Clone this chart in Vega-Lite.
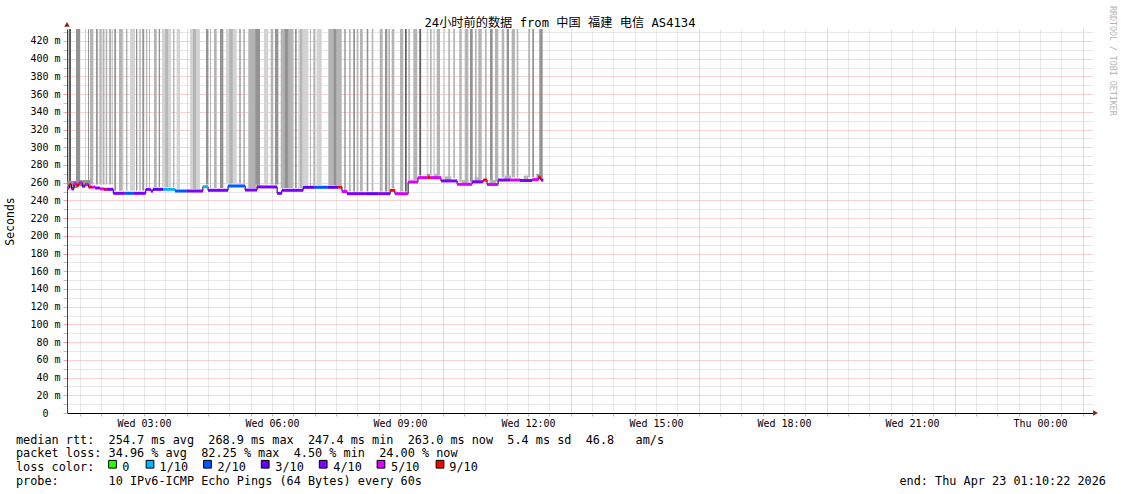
{
"$schema": "https://vega.github.io/schema/vega-lite/v6.json",
"background": "white",
"padding": {"left": 4, "top": 5, "right": 5, "bottom": 5},
"config": {"view": {"stroke": null}, "font": "DejaVu Sans Mono"},
"bounds": "flush",
"spacing": 30.7,
"datasets": {
"smoke": [
{"t":1.235,"t2":1.289,"level":4,"lo":258,"hi":440},
{"t":1.406,"t2":1.5,"level":3,"lo":258,"hi":440},
{"t":1.617,"t2":1.641,"level":1,"lo":258,"hi":440},
{"t":1.688,"t2":1.711,"level":3,"lo":258,"hi":440},
{"t":1.734,"t2":1.812,"level":2,"lo":258,"hi":440},
{"t":1.875,"t2":1.915,"level":3,"lo":258,"hi":440},
{"t":1.938,"t2":2.032,"level":1,"lo":258,"hi":440},
{"t":1.97,"t2":2.0,"level":2,"lo":258,"hi":440},
{"t":2.046,"t2":2.07,"level":3,"lo":258,"hi":440},
{"t":2.102,"t2":2.14,"level":2,"lo":258,"hi":440},
{"t":2.187,"t2":2.22,"level":3,"lo":258,"hi":440},
{"t":2.243,"t2":2.266,"level":2,"lo":258,"hi":440},
{"t":2.304,"t2":2.344,"level":3,"lo":251,"hi":440},
{"t":2.414,"t2":2.501,"level":2,"lo":251,"hi":440},
{"t":2.585,"t2":2.609,"level":3,"lo":251,"hi":440},
{"t":2.672,"t2":2.789,"level":1,"lo":251,"hi":440},
{"t":2.812,"t2":2.843,"level":3,"lo":251,"hi":440},
{"t":2.89,"t2":2.923,"level":2,"lo":251,"hi":440},
{"t":2.96,"t2":3.0,"level":3,"lo":251,"hi":440},
{"t":3.047,"t2":3.077,"level":2,"lo":255,"hi":440},
{"t":3.124,"t2":3.14,"level":3,"lo":255,"hi":440},
{"t":3.234,"t2":3.298,"level":2,"lo":255,"hi":440},
{"t":3.345,"t2":3.375,"level":3,"lo":255,"hi":440},
{"t":3.422,"t2":3.633,"level":1,"lo":255,"hi":440},
{"t":3.5,"t2":3.56,"level":2,"lo":255,"hi":440},
{"t":3.687,"t2":3.71,"level":3,"lo":255,"hi":440},
{"t":3.766,"t2":3.844,"level":1,"lo":253,"hi":440},
{"t":4.078,"t2":4.312,"level":1,"lo":253,"hi":440},
{"t":4.15,"t2":4.22,"level":2,"lo":253,"hi":440},
{"t":4.453,"t2":4.507,"level":3,"lo":258,"hi":440},
{"t":4.547,"t2":4.57,"level":2,"lo":254,"hi":440},
{"t":4.64,"t2":4.704,"level":2,"lo":254,"hi":440},
{"t":4.781,"t2":4.859,"level":3,"lo":254,"hi":440},
{"t":4.922,"t2":5.173,"level":1,"lo":259,"hi":440},
{"t":5.0,"t2":5.08,"level":2,"lo":259,"hi":440},
{"t":5.234,"t2":5.266,"level":3,"lo":259,"hi":440},
{"t":5.327,"t2":5.367,"level":2,"lo":259,"hi":440},
{"t":5.444,"t2":5.719,"level":2,"lo":254,"hi":440},
{"t":5.61,"t2":5.719,"level":3,"lo":258,"hi":440},
{"t":5.812,"t2":5.913,"level":1,"lo":258,"hi":440},
{"t":5.969,"t2":6.03,"level":2,"lo":258,"hi":440},
{"t":6.07,"t2":6.148,"level":3,"lo":258,"hi":440},
{"t":6.204,"t2":6.499,"level":2,"lo":254,"hi":440},
{"t":6.3,"t2":6.38,"level":3,"lo":254,"hi":440},
{"t":6.539,"t2":6.579,"level":3,"lo":254,"hi":440},
{"t":6.616,"t2":6.68,"level":1,"lo":254,"hi":440},
{"t":6.656,"t2":6.72,"level":2,"lo":254,"hi":440},
{"t":6.72,"t2":6.851,"level":1,"lo":257,"hi":440},
{"t":6.891,"t2":6.914,"level":2,"lo":257,"hi":440},
{"t":6.968,"t2":7.008,"level":2,"lo":257,"hi":440},
{"t":7.047,"t2":7.165,"level":1,"lo":257,"hi":440},
{"t":7.319,"t2":7.437,"level":2,"lo":257,"hi":440},
{"t":7.437,"t2":7.516,"level":3,"lo":257,"hi":440},
{"t":7.516,"t2":7.633,"level":2,"lo":257,"hi":440},
{"t":7.694,"t2":7.727,"level":3,"lo":250,"hi":440},
{"t":7.805,"t2":7.844,"level":2,"lo":250,"hi":440},
{"t":7.905,"t2":7.945,"level":3,"lo":250,"hi":440},
{"t":7.985,"t2":8.023,"level":2,"lo":250,"hi":440},
{"t":8.063,"t2":8.126,"level":2,"lo":250,"hi":440},
{"t":8.219,"t2":8.257,"level":3,"lo":250,"hi":440},
{"t":8.337,"t2":8.374,"level":2,"lo":250,"hi":440},
{"t":8.531,"t2":8.594,"level":2,"lo":250,"hi":440},
{"t":8.648,"t2":8.702,"level":3,"lo":250,"hi":440},
{"t":8.726,"t2":8.766,"level":2,"lo":250,"hi":440},
{"t":8.805,"t2":8.866,"level":2,"lo":254,"hi":440},
{"t":9.0,"t2":9.077,"level":2,"lo":250,"hi":440},
{"t":9.117,"t2":9.157,"level":4,"lo":250,"hi":440},
{"t":9.194,"t2":9.234,"level":2,"lo":263,"hi":440},
{"t":9.312,"t2":9.405,"level":2,"lo":263,"hi":440},
{"t":9.452,"t2":9.492,"level":4,"lo":268,"hi":440},
{"t":9.626,"t2":9.663,"level":1,"lo":268,"hi":440},
{"t":9.703,"t2":9.742,"level":2,"lo":268,"hi":440},
{"t":9.78,"t2":9.82,"level":1,"lo":268,"hi":440},
{"t":9.86,"t2":9.937,"level":2,"lo":268,"hi":440},
{"t":10.015,"t2":10.055,"level":1,"lo":265,"hi":440},
{"t":10.132,"t2":10.172,"level":2,"lo":265,"hi":440},
{"t":10.249,"t2":10.289,"level":2,"lo":265,"hi":440},
{"t":10.39,"t2":10.446,"level":2,"lo":261,"hi":440},
{"t":10.523,"t2":10.601,"level":2,"lo":261,"hi":440},
{"t":10.64,"t2":10.704,"level":3,"lo":261,"hi":440},
{"t":10.758,"t2":10.797,"level":2,"lo":264,"hi":440},
{"t":10.835,"t2":10.915,"level":2,"lo":264,"hi":440},
{"t":10.992,"t2":11.031,"level":2,"lo":264,"hi":440},
{"t":11.109,"t2":11.172,"level":3,"lo":261,"hi":440},
{"t":11.226,"t2":11.304,"level":2,"lo":261,"hi":440},
{"t":11.383,"t2":11.444,"level":2,"lo":266,"hi":440},
{"t":11.5,"t2":11.554,"level":3,"lo":266,"hi":440},
{"t":11.617,"t2":11.695,"level":2,"lo":266,"hi":440},
{"t":11.735,"t2":11.773,"level":2,"lo":266,"hi":440},
{"t":12.007,"t2":12.047,"level":2,"lo":266,"hi":440},
{"t":12.1,"t2":12.14,"level":3,"lo":266,"hi":440},
{"t":12.265,"t2":12.344,"level":3,"lo":266,"hi":440},
{"t":1.2,"t2":1.45,"level":3,"lo":254,"hi":262},
{"t":1.5,"t2":1.75,"level":3,"lo":256,"hi":263},
{"t":9.63,"t2":9.7,"level":3,"lo":266,"hi":270},
{"t":9.8,"t2":9.9,"level":2,"lo":266,"hi":270},
{"t":10.05,"t2":10.2,"level":2,"lo":263,"hi":267},
{"t":10.45,"t2":10.6,"level":2,"lo":259,"hi":263},
{"t":10.75,"t2":10.9,"level":2,"lo":262,"hi":266},
{"t":11.1,"t2":11.25,"level":2,"lo":259,"hi":263},
{"t":11.45,"t2":11.6,"level":2,"lo":264,"hi":268},
{"t":11.9,"t2":12.0,"level":2,"lo":264,"hi":268},
{"t":12.2,"t2":12.34,"level":3,"lo":264,"hi":270}
],
"median": [
{"t":1.195,"t2":1.25,"rtt":254,"loss":"5/10"},
{"t":1.25,"t2":1.3,"rtt":258,"loss":"9/10"},
{"t":1.3,"t2":1.36,"rtt":253,"loss":"4/10"},
{"t":1.36,"t2":1.42,"rtt":259,"loss":"5/10"},
{"t":1.42,"t2":1.48,"rtt":257,"loss":"9/10"},
{"t":1.48,"t2":1.55,"rtt":260,"loss":"5/10"},
{"t":1.55,"t2":1.62,"rtt":256,"loss":"4/10"},
{"t":1.62,"t2":1.7,"rtt":258,"loss":"5/10"},
{"t":1.7,"t2":1.78,"rtt":255,"loss":"9/10"},
{"t":1.78,"t2":1.86,"rtt":255,"loss":"5/10"},
{"t":1.86,"t2":1.97,"rtt":254,"loss":"4/10"},
{"t":1.97,"t2":2.06,"rtt":253,"loss":"5/10"},
{"t":2.06,"t2":2.12,"rtt":252.5,"loss":"9/10"},
{"t":2.12,"t2":2.28,"rtt":252.5,"loss":"4/10"},
{"t":2.28,"t2":2.55,"rtt":248,"loss":"4/10"},
{"t":2.55,"t2":2.75,"rtt":248,"loss":"2/10"},
{"t":2.75,"t2":3.04,"rtt":248,"loss":"4/10"},
{"t":3.04,"t2":3.16,"rtt":252.5,"loss":"4/10"},
{"t":3.16,"t2":3.21,"rtt":250.5,"loss":"4/10"},
{"t":3.21,"t2":3.45,"rtt":252.5,"loss":"3/10"},
{"t":3.45,"t2":3.73,"rtt":252.5,"loss":"1/10"},
{"t":3.73,"t2":4.0,"rtt":250.6,"loss":"2/10"},
{"t":4.0,"t2":4.38,"rtt":250.6,"loss":"4/10"},
{"t":4.38,"t2":4.5,"rtt":255.5,"loss":"1/10"},
{"t":4.5,"t2":4.97,"rtt":251.4,"loss":"4/10"},
{"t":4.97,"t2":5.37,"rtt":256.3,"loss":"2/10"},
{"t":5.37,"t2":5.65,"rtt":251.7,"loss":"4/10"},
{"t":5.65,"t2":6.12,"rtt":255.2,"loss":"4/10"},
{"t":6.12,"t2":6.23,"rtt":248,"loss":"4/10"},
{"t":6.23,"t2":6.73,"rtt":251.4,"loss":"4/10"},
{"t":6.73,"t2":7.0,"rtt":254.8,"loss":"3/10"},
{"t":7.0,"t2":7.3,"rtt":254.8,"loss":"2/10"},
{"t":7.3,"t2":7.55,"rtt":254.8,"loss":"3/10"},
{"t":7.55,"t2":7.64,"rtt":255,"loss":"9/10"},
{"t":7.64,"t2":7.76,"rtt":250,"loss":"5/10"},
{"t":7.76,"t2":8.2,"rtt":247.6,"loss":"4/10"},
{"t":8.2,"t2":8.5,"rtt":247.6,"loss":"3/10"},
{"t":8.5,"t2":8.77,"rtt":247.6,"loss":"4/10"},
{"t":8.77,"t2":8.88,"rtt":251.4,"loss":"9/10"},
{"t":8.88,"t2":9.19,"rtt":247.6,"loss":"5/10"},
{"t":9.19,"t2":9.42,"rtt":260.8,"loss":"5/10"},
{"t":9.42,"t2":9.65,"rtt":265.7,"loss":"5/10"},
{"t":9.65,"t2":9.72,"rtt":265.7,"loss":"9/10"},
{"t":9.72,"t2":9.96,"rtt":265.7,"loss":"5/10"},
{"t":9.96,"t2":10.34,"rtt":262,"loss":"4/10"},
{"t":10.34,"t2":10.69,"rtt":258.2,"loss":"5/10"},
{"t":10.69,"t2":10.95,"rtt":261,"loss":"4/10"},
{"t":10.95,"t2":11.04,"rtt":263,"loss":"9/10"},
{"t":11.04,"t2":11.3,"rtt":258,"loss":"5/10"},
{"t":11.3,"t2":11.58,"rtt":263,"loss":"4/10"},
{"t":11.58,"t2":11.81,"rtt":263,"loss":"5/10"},
{"t":11.81,"t2":12.1,"rtt":262.5,"loss":"4/10"},
{"t":12.1,"t2":12.25,"rtt":263.5,"loss":"5/10"},
{"t":12.25,"t2":12.3,"rtt":266,"loss":"9/10"},
{"t":12.3,"t2":12.36,"rtt":263,"loss":"4/10"}
],
"arrows": [
{"t":1.1953,"v":438.6,"dir":"up"},
{"t":25.3,"v":0,"dir":"right"}
],
"legendText": [
{"row":0,"col":0,"text":"median\u00a0rtt:\u00a0\u00a0254.7\u00a0ms\u00a0avg\u00a0\u00a0268.9\u00a0ms\u00a0max\u00a0\u00a0247.4\u00a0ms\u00a0min\u00a0\u00a0263.0\u00a0ms\u00a0now\u00a0\u00a05.4\u00a0ms\u00a0sd\u00a0\u00a046.8\u00a0\u00a0\u00a0am/s"},
{"row":1,"col":0,"text":"packet\u00a0loss:\u00a034.96\u00a0%\u00a0avg\u00a0\u00a082.25\u00a0%\u00a0max\u00a0\u00a04.50\u00a0%\u00a0min\u00a0\u00a024.00\u00a0%\u00a0now"},
{"row":2,"col":0,"text":"loss\u00a0color:"},
{"row":2,"col":15.14,"text":"0"},
{"row":2,"col":20.45,"text":"1/10"},
{"row":2,"col":28.7,"text":"2/10"},
{"row":2,"col":36.94,"text":"3/10"},
{"row":2,"col":45.2,"text":"4/10"},
{"row":2,"col":53.42,"text":"5/10"},
{"row":2,"col":61.72,"text":"9/10"},
{"row":3,"col":0,"text":"probe:\u00a0\u00a0\u00a0\u00a0\u00a0\u00a0\u00a010\u00a0IPv6-ICMP\u00a0Echo\u00a0Pings\u00a0(64\u00a0Bytes)\u00a0every\u00a060s"}
],
"legendRight": [
{"row":3,"col":155.27,"text":"end:\u00a0Thu\u00a0Apr\u00a023\u00a001:10:22\u00a02026"}
],
"legendSwatch": [
{"row":2,"col":13.75,"loss":"0"},
{"row":2,"col":19.09,"loss":"1/10"},
{"row":2,"col":27.28,"loss":"2/10"},
{"row":2,"col":35.5,"loss":"3/10"},
{"row":2,"col":43.76,"loss":"4/10"},
{"row":2,"col":51.99,"loss":"5/10"},
{"row":2,"col":60.4,"loss":"9/10"}
]
},
"title": {"text": "RRDTOOL / TOBI OETIKER", "orient": "right", "anchor": "start", "angle": 90, "offset": -7.5, "dy": -10, "dx": -11, "font": "DejaVu Sans Mono", "fontSize": 8.3, "fontWeight": "normal", "color": "#b4b4b4"},
"vconcat": [
{
"width": 1026,
"height": 384,
"title": {"text": "24小时前的数据 from 中国 福建 电信 AS4134", "anchor": "middle", "frame": "group", "dx": -20, "offset": -7, "font": "DejaVu Sans Mono, Noto Sans CJK SC", "fontSize": 12.2, "fontWeight": "normal", "color": "#000"},
"resolve": {"axis": {"x": "independent", "y": "independent"}},
"layer": [
{
"data": {"name": "smoke"},
"mark": {"type": "rect", "clip": true},
"encoding": {
"x": {"field": "t", "type": "quantitative", "scale": {"domain": [1.1953, 25.242], "nice": false, "zero": false},
"axis": {"orient": "bottom", "values": [1.5,2,2.5,3,3.5,4,4.5,5,5.5,6,6.5,7,7.5,8,8.5,9,9.5,10,10.5,11,11.5,12,12.5,13,13.5,14,14.5,15,15.5,16,16.5,17,17.5,18,18.5,19,19.5,20,20.5,21,21.5,22,22.5,23,23.5,24,24.5,25],
"labelExpr": "datum.value % 3 === 0 ? (datum.value < 24 ? 'Wed ' : 'Thu ') + ((datum.value % 24) < 10 ? '0' : '') + (datum.value % 24) + ':00' : ''",
"title": null, "grid": true,
"gridColor": {"condition": {"test": "(datum.value - 1) % 3 === 0", "value": "#f2a3a3"}, "value": "#d2d2d2"},
"gridDash": [1, 1], "gridWidth": 1,
"tickSize": 3, "tickColor": {"condition": {"test": "(datum.value - 1) % 3 === 0", "value": "#f2a3a3"}, "value": "#bbbbbb"},
"domainColor": "#000", "domainWidth": 1,
"labelFont": "DejaVu Sans Mono", "labelFontSize": 10, "labelColor": "#000", "labelPadding": 2,
"labelOverlap": false, "labelFlush": false}},
"x2": {"field": "t2"},
"y": {"field": "lo", "type": "quantitative", "scale": {"domain": [0, 433.5], "nice": false, "zero": true},
"axis": {"orient": "left", "values": [0,10,20,30,40,50,60,70,80,90,100,110,120,130,140,150,160,170,180,190,200,210,220,230,240,250,260,270,280,290,300,310,320,330,340,350,360,370,380,390,400,410,420,430],
"labelExpr": "datum.value % 20 === 0 ? (datum.value === 0 ? '0' : datum.value + '\u00a0m') : ''",
"grid": true,
"gridColor": {"condition": {"test": "datum.value % 20 === 0", "value": "#f2a3a3"}, "value": "#d2d2d2"},
"gridDash": [1, 1], "gridWidth": 1,
"tickSize": 4, "tickColor": {"condition": {"test": "datum.value % 20 === 0", "value": "#f2a3a3"}, "value": "#bbbbbb"},
"domainColor": "#444", "domainWidth": 1,
"labelFont": "DejaVu Sans Mono", "labelFontSize": 10, "labelColor": "#000",
"labelPadding": {"condition": {"test": "datum.value === 0", "value": 15}, "value": 3},
"labelOverlap": false, "labelFlush": false,
"title": "Seconds", "titleFont": "DejaVu Sans Mono", "titleFontSize": 11.5, "titleFontWeight": "normal", "titleColor": "#000",
"titleAngle": -90, "titleAlign": "center", "titleBaseline": "middle", "titleX": -57, "titleY": 192}},
"y2": {"field": "hi"},
"fill": {"field": "level", "type": "ordinal", "scale": {"domain": [1, 2, 3, 4], "range": ["#d3d3d3", "#b4b4b4", "#939393", "#5e5e5e"]}, "legend": null}
}
},
{
"data": {"name": "median"},
"mark": {"type": "line", "interpolate": "step-after", "color": "#000", "strokeWidth": 1},
"encoding": {
"x": {"field": "t", "type": "quantitative", "scale": {"domain": [1.1953, 25.242], "nice": false, "zero": false}, "axis": null},
"y": {"field": "rtt", "type": "quantitative", "scale": {"domain": [0, 433.5], "nice": false, "zero": true}, "axis": null}
}
},
{
"data": {"name": "median"},
"mark": {"type": "rule", "strokeWidth": 3},
"encoding": {
"x": {"field": "t", "type": "quantitative", "scale": {"domain": [1.1953, 25.242], "nice": false, "zero": false}, "axis": null},
"x2": {"field": "t2"},
"y": {"field": "rtt", "type": "quantitative", "scale": {"domain": [0, 433.5], "nice": false, "zero": true}, "axis": null},
"stroke": {"field": "loss", "type": "nominal", "scale": {"domain": ["0", "1/10", "2/10", "3/10", "4/10", "5/10", "9/10"], "range": ["#26ff00", "#00b8ff", "#0059ff", "#5e00ff", "#7e00ff", "#dd00ff", "#ff0000"]}, "legend": null}
}
},
{
"data": {"name": "arrows"},
"mark": {"type": "point", "filled": true, "opacity": 1, "size": 30, "color": "#8c1c1c"},
"encoding": {
"x": {"field": "t", "type": "quantitative", "scale": {"domain": [1.1953, 25.242], "nice": false, "zero": false}, "axis": null},
"y": {"field": "v", "type": "quantitative", "scale": {"domain": [0, 433.5], "nice": false, "zero": true}, "axis": null},
"shape": {"field": "dir", "type": "nominal", "scale": {"domain": ["up", "right"], "range": ["triangle-up", "triangle-right"]}, "legend": null}
}
}
]
},
{
"width": 1026,
"height": 41.3,
"encoding": {
"x": {"field": "col", "type": "quantitative", "scale": {"domain": [7.265, 153.42], "nice": false, "zero": false}, "axis": null},
"y": {"field": "row", "type": "quantitative", "scale": {"domain": [0, 3], "reverse": true, "nice": false, "zero": false}, "axis": null}
},
"layer": [
{
"data": {"name": "legendSwatch"},
"mark": {"type": "square", "size": 60, "stroke": "#000", "strokeWidth": 1, "opacity": 1, "yOffset": -7},
"encoding": {
"fill": {"field": "loss", "type": "nominal", "scale": {"domain": ["0", "1/10", "2/10", "3/10", "4/10", "5/10", "9/10"], "range": ["#26ff00", "#00b8ff", "#0059ff", "#5e00ff", "#7e00ff", "#dd00ff", "#ff0000"]}, "legend": null}
}
},
{
"data": {"name": "legendText"},
"mark": {"type": "text", "align": "left", "baseline": "alphabetic", "font": "DejaVu Sans Mono", "fontSize": 11.83, "color": "#000"},
"encoding": {"text": {"field": "text"}}
},
{
"data": {"name": "legendRight"},
"mark": {"type": "text", "align": "right", "baseline": "alphabetic", "font": "DejaVu Sans Mono", "fontSize": 11.83, "color": "#000"},
"encoding": {"text": {"field": "text"}}
}
]
}
],
"resolve": {"scale": {"x": "independent", "y": "independent", "fill": "independent", "stroke": "independent", "shape": "independent"}}
}
